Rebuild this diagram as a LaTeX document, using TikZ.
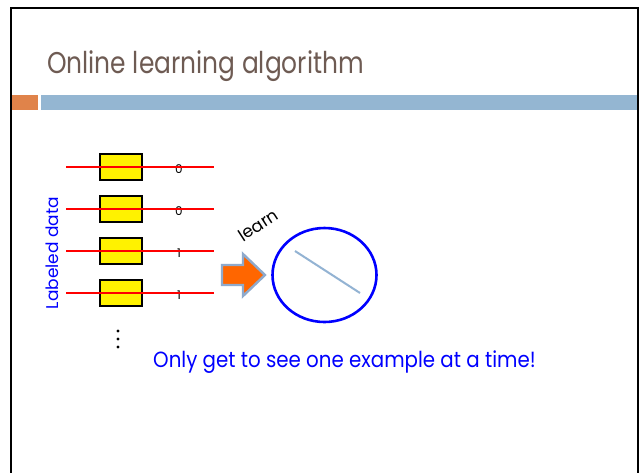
\documentclass[tikz,border=0pt]{standalone}
\usepackage{fontspec}
\setmainfont{Poppins}
\newfontfamily\titlefont[FakeStretch=0.83]{Poppins}
\newfontfamily\notefont[FakeStretch=0.9]{Poppins}
\usetikzlibrary{shapes.geometric}
\definecolor{titlec}{HTML}{6E5B53}
\definecolor{barorange}{HTML}{E0834A}
\definecolor{barblue}{HTML}{94B6D2}
\definecolor{arroworange}{HTML}{FF6600}
\definecolor{arrowedge}{HTML}{8FAACC}
\definecolor{sepline}{HTML}{93B3D3}
\begin{document}
\begin{tikzpicture}[x=1pt,y=-1pt,
  databox/.style={draw=black,line width=2.4pt,fill=yellow,minimum width=42pt,minimum height=26pt,inner sep=0pt},
  redline/.style={draw=red,line width=2.6pt},
  digit/.style={font=\fontsize{12}{14}\selectfont,inner sep=0pt},
  bluetext/.style={text=blue,font=\fontsize{17}{20}\selectfont,inner sep=0pt}]
\useasboundingbox (0,0) rectangle (642,472);
\fill[white] (0,0) rectangle (642,472);
% frame
\draw[line width=2.8pt,black] (11,473) -- (11,8) -- (638,8) -- (638,473);
% title
\node[anchor=base west,text=titlec,font=\titlefont\fontsize{30}{36}\selectfont,inner sep=0pt] (title) at (47,73) {Online learning algorithm};
% bars
\fill[barorange] (12,95) rectangle (38,110);
\fill[barblue] (41,95) rectangle (637,110);
% data rows
\foreach \i/\y/\d in {1/167/0,2/209/0,3/251/1,4/293/1}{
  \node[databox] (b\i) at (121,\y) {};
  \node[digit] (d\i) at (179,\y+2) {\d};
  \coordinate (l\i) at (66,\y);
  \coordinate (r\i) at (214,\y);
  \draw[redline] (l\i) -- (r\i);
}
% dots
\foreach \j/\y in {1/331,2/339,3/347}{\fill (118,\y) circle (1.7pt);}
% labeled data
\node[bluetext,rotate=90] (lab) at (52,253) {Labeled data};
% arrow
\draw[fill=arroworange,draw=arrowedge,line width=2.4pt,line join=miter]
  (222,265) -- (243,265) -- (243,254) -- (265,275) -- (243,296) -- (243,285) -- (222,285) -- cycle;
\coordinate (arrowtip) at (265,275);
% learn
\node[inner sep=0pt,rotate=33,font=\fontsize{17}{20}\selectfont] (learn) at (258,225) {learn};
% model
\node[draw=blue,line width=2.6pt,ellipse,minimum width=104pt,minimum height=94pt,inner sep=0pt] (model) at (324.5,275) {};
\coordinate (s1) at (295,251);
\coordinate (s2) at (360,293);
\draw[sepline,line width=2pt] (s1) -- (s2);
% note
\node[bluetext,font=\notefont\fontsize{22}{26}\selectfont,anchor=base west] (note) at (153,367) {Only get to see one example at a time!};
\end{tikzpicture}
\end{document}
